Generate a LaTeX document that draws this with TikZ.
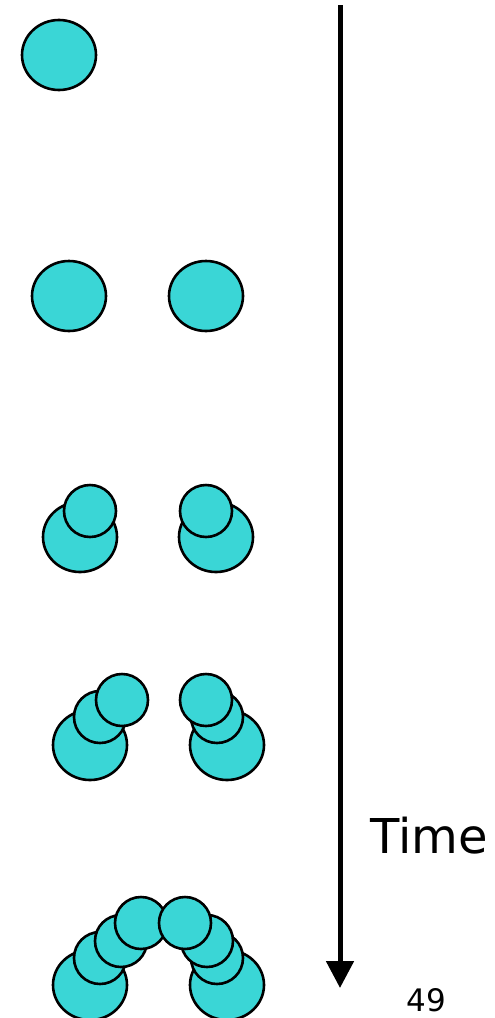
\documentclass[tikz,border=0pt]{standalone}
\usepackage{fontspec}
\setsansfont{DejaVu Sans}
\usetikzlibrary{arrows.meta, shapes.geometric}
\definecolor{ccyan}{HTML}{3AD6D6}
\tikzset{
  every picture/.style={font=\sffamily, line width=2.6pt},
  cell/.style={ellipse, draw=black, fill=ccyan, inner sep=0pt, minimum width=74pt, minimum height=70pt},
  bud/.style={circle, draw=black, fill=ccyan, inner sep=0pt, minimum size=52pt},
  timearrow/.style={-{Triangle[length=27pt, width=27pt]}, draw=black, line width=5pt},
  label/.style={font=\sffamily, anchor=base west, inner sep=0pt},
}

\begin{document}
\begin{tikzpicture}[x=1pt, y=-1pt]
  \useasboundingbox (0,0) rectangle (495,1018);
  % one cell, then two
  \node[cell] (c1) at (59,55) {};
  \node[cell] (c2l) at (69,296) {};
  \node[cell] (c2r) at (206,296) {};
  % mother cells of the later rows
  \foreach \n/\x/\y in {c3l/80/537, c3r/216/537, c4l/90/745, c4r/227/745, c5l/90/985, c5r/227/985}
    \node[cell] (\n) at (\x,\y) {};
  % buds, lowest first so the newest lies on top
  \foreach \n/\x/\y in {b3l/90/511, b3r/206/511,
                        b4la/100/717, b4lb/122/700, b4ra/217/717, b4rb/206/700,
                        b5la/100/958, b5lb/121/941, b5lc/141/923,
                        b5ra/217/958, b5rb/207/941, b5rc/185/923}
    \node[bud] (\n) at (\x,\y) {};
  % time axis
  \coordinate (tTop) at (340,5);
  \coordinate (tEnd) at (340,988);
  \draw[timearrow] (tTop) -- (tEnd);
  \node[label, font=\sffamily\fontsize{48}{56}\selectfont] (time) at (369,853) {Time};
  \node[label, font=\sffamily\fontsize{31}{36}\selectfont] (page) at (405,1011) {49};
\end{tikzpicture}
\end{document}
